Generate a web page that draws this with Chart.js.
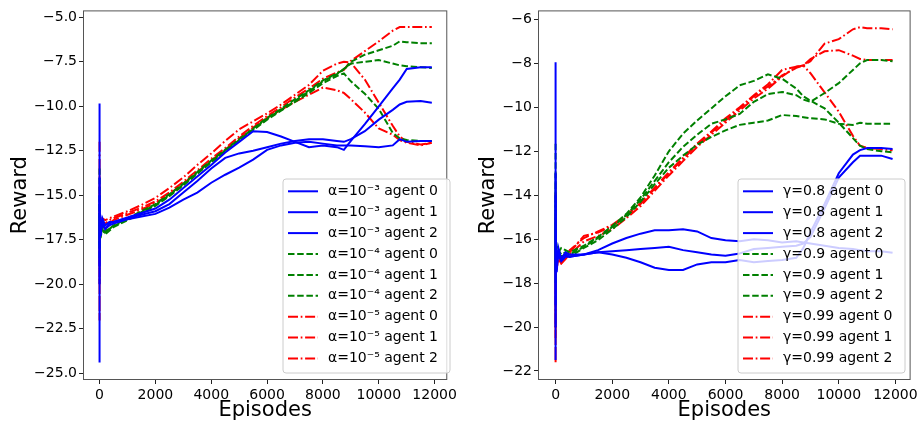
<!DOCTYPE html>
<html><head><meta charset="utf-8">
<script src="https://cdn.jsdelivr.net/npm/chart.js@4.4.1/dist/chart.umd.min.js"></script>
<style>
body{margin:0;background:#fff;}
#wrap{position:relative;width:921px;height:426px;}
.panel{position:absolute;top:0;height:426px;}
</style></head><body>
<div id="wrap">
<div class="panel" style="left:0;width:460px"><canvas id="lr" width="460" height="426"></canvas></div>
<div class="panel" style="left:460px;width:461px"><canvas id="gm" width="461" height="426"></canvas></div>
</div>
<script>
// shared x positions (episodes); several 0s draw the start-up spike
const episodes = [0,0,0,0,0,40,100,200,350,500,1000,1500,2000,2500,3000,3500,4000,4500,5000,5500,6000,6500,7000,7500,8000,8500,8750,9000,9500,10000,10500,10750,11000,11500,11900];
const xTicks = [0,2000,4000,6000,8000,10000,12000];
const lrTicks = [-25,-22.5,-20,-17.5,-15,-12.5,-10,-7.5,-5];
const gammaTicks = [-22,-20,-18,-16,-14,-12,-10,-8,-6];

// left panel: learning rate
const lrLabels = ['α=10⁻³ agent 0','α=10⁻³ agent 1','α=10⁻³ agent 2','α=10⁻⁴ agent 0','α=10⁻⁴ agent 1','α=10⁻⁴ agent 2','α=10⁻⁵ agent 0','α=10⁻⁵ agent 1','α=10⁻⁵ agent 2'];
const lr3a0 = [-9.85,-24.4,-12.7,-19.5,-15.8,-17.3,-16.4,-16.9,-16.6,-16.5,-16.25,-16.0,-15.75,-15.25,-14.6,-13.95,-13.3,-12.6,-12.0,-11.4,-11.45,-11.7,-12.0,-12.3,-12.2,-12.3,-12.45,-11.95,-11.0,-10.0,-9.0,-8.5,-7.9,-7.8,-7.8];
const lr3a1 = [-14,-20,-15.5,-18,-16.5,-17.0,-16.3,-16.7,-16.5,-16.5,-16.3,-16.1,-15.9,-15.5,-14.85,-14.2,-13.5,-12.9,-12.65,-12.5,-12.3,-12.1,-11.95,-11.85,-11.85,-11.95,-12.0,-11.85,-11.4,-10.75,-10.2,-9.9,-9.75,-9.7,-9.8];
const lr3a2 = [-15,-19,-16,-17.5,-16.8,-17.1,-16.6,-16.9,-16.7,-16.6,-16.35,-16.2,-16.05,-15.7,-15.25,-14.85,-14.3,-13.85,-13.45,-13.0,-12.45,-12.2,-12.05,-12.0,-12.1,-12.2,-12.2,-12.2,-12.25,-12.3,-12.2,-11.85,-12.0,-11.95,-11.95];
const lr4a0 = [-13.5,-18.6,-15.2,-17.8,-16.5,-17.4,-16.6,-17.1,-16.9,-16.7,-16.3,-15.9,-15.5,-14.95,-14.35,-13.7,-13.05,-12.45,-11.85,-11.25,-10.65,-10.15,-9.6,-9.1,-8.55,-8.15,-7.95,-7.5,-7.1,-6.85,-6.6,-6.35,-6.4,-6.45,-6.45];
const lr4a1 = [-15,-18,-16,-17.5,-16.8,-17.2,-16.8,-17.0,-16.9,-16.75,-16.35,-15.95,-15.55,-15.0,-14.4,-13.75,-13.1,-12.5,-11.9,-11.3,-10.7,-10.2,-9.7,-9.15,-8.6,-8.2,-7.9,-7.6,-7.5,-7.4,-7.6,-7.7,-7.75,-7.8,-7.85];
const lr4a2 = [-15.5,-17.8,-16.3,-17.3,-17.0,-17.3,-16.9,-17.2,-17.0,-16.8,-16.4,-16.0,-15.6,-15.05,-14.45,-13.8,-13.15,-12.55,-11.95,-11.35,-10.75,-10.25,-9.75,-9.25,-8.7,-8.3,-8.15,-8.6,-9.3,-10.15,-11.5,-11.8,-11.9,-11.95,-11.95];
const lr5a0 = [-12.0,-22.05,-13.5,-19.5,-16.0,-17.2,-16.5,-16.6,-16.4,-16.3,-16.0,-15.7,-15.35,-14.85,-14.25,-13.6,-12.95,-12.35,-11.7,-11.1,-10.55,-10.05,-9.5,-9.0,-8.45,-8.1,-7.95,-7.45,-6.9,-6.35,-5.75,-5.55,-5.55,-5.55,-5.55];
const lr5a1 = [-14.5,-20.0,-15.8,-18.5,-16.5,-17.0,-16.3,-16.4,-16.3,-16.2,-15.9,-15.55,-15.15,-14.6,-14.0,-13.3,-12.65,-11.95,-11.3,-10.85,-10.4,-9.9,-9.35,-8.8,-8.0,-7.6,-7.5,-7.55,-8.5,-9.8,-11.1,-11.7,-12.0,-12.15,-12.05];
const lr5a2 = [-15.5,-19,-16.2,-18,-16.8,-17.1,-16.7,-16.8,-16.6,-16.4,-16.1,-15.8,-15.45,-14.95,-14.35,-13.7,-13.05,-12.45,-11.8,-11.2,-10.65,-10.2,-9.75,-9.35,-8.95,-9.1,-9.25,-9.6,-10.35,-11.25,-11.6,-11.9,-12.05,-12.2,-12.05];

// right panel: discount factor
const gammaLabels = ['γ=0.8 agent 0','γ=0.8 agent 1','γ=0.8 agent 2','γ=0.9 agent 0','γ=0.9 agent 1','γ=0.9 agent 2','γ=0.99 agent 0','γ=0.99 agent 1','γ=0.99 agent 2'];
const g8a0 = [-7.95,-21.5,-12,-19,-15.5,-17.5,-16.4,-16.9,-16.6,-16.7,-16.7,-16.5,-16.2,-15.95,-15.75,-15.6,-15.6,-15.55,-15.65,-15.95,-16.05,-16.1,-16.0,-16.05,-16.15,-16.1,-16.15,-16.2,-16.3,-16.4,-16.45,-16.5,-16.55,-16.55,-16.62];
const g8a1 = [-13,-19,-15.5,-18,-16.8,-17.0,-16.6,-16.9,-16.7,-16.8,-16.7,-16.6,-16.55,-16.5,-16.45,-16.4,-16.35,-16.5,-16.6,-16.7,-16.75,-16.65,-16.45,-16.4,-16.35,-16.3,-16.2,-15.9,-14.6,-13.2,-12.5,-12.2,-12.2,-12.2,-12.35];
const g8a2 = [-14,-20,-16,-18.5,-17,-17.2,-16.7,-17.0,-16.8,-16.8,-16.7,-16.6,-16.7,-16.85,-17.05,-17.3,-17.4,-17.4,-17.15,-17.05,-17.05,-16.95,-17.05,-17.0,-16.95,-16.85,-16.4,-15.7,-14.4,-13.0,-12.15,-11.95,-11.85,-11.85,-11.9];
const g9a0 = [-11.66,-18,-13.5,-17,-16,-16.3,-16.6,-16.4,-16.5,-16.6,-16.3,-15.9,-15.4,-14.85,-14.1,-13.1,-12.0,-11.2,-10.6,-10.05,-9.5,-9.0,-8.8,-8.5,-8.7,-9.15,-9.5,-9.7,-10.05,-10.7,-11.4,-11.75,-11.9,-12.0,-12.05];
const g9a1 = [-13,-17.5,-15,-17,-16.5,-16.8,-16.5,-16.7,-16.6,-16.7,-16.35,-15.95,-15.45,-14.9,-14.2,-13.35,-12.5,-11.8,-11.25,-10.75,-10.55,-10.3,-9.75,-9.4,-9.3,-9.45,-9.65,-9.75,-9.35,-8.9,-8.3,-8.0,-7.85,-7.85,-7.9];
const g9a2 = [-14,-17.2,-15.5,-16.8,-16.6,-16.9,-16.6,-16.8,-16.7,-16.8,-16.4,-16.05,-15.55,-15.0,-14.3,-13.5,-12.75,-12.2,-11.7,-11.35,-11.05,-10.8,-10.7,-10.6,-10.35,-10.4,-10.45,-10.5,-10.55,-10.75,-10.8,-10.7,-10.75,-10.75,-10.75];
const g99a0 = [-13.9,-21.64,-15,-19.5,-16.8,-17.3,-16.9,-17.1,-16.9,-16.6,-15.85,-15.7,-15.4,-14.95,-14.4,-13.7,-13.0,-12.35,-11.7,-11.15,-10.6,-10.05,-9.5,-9.05,-8.55,-8.2,-8.1,-7.9,-7.1,-6.9,-6.45,-6.35,-6.4,-6.4,-6.45];
const g99a1 = [-15,-20.5,-16,-19,-17,-17.2,-16.8,-17.0,-16.8,-16.5,-15.95,-15.65,-15.35,-14.9,-14.35,-13.65,-12.95,-12.3,-11.65,-11.1,-10.5,-10.0,-9.45,-8.95,-8.3,-8.15,-8.1,-7.8,-7.45,-7.4,-7.65,-7.8,-7.85,-7.85,-7.85];
const g99a2 = [-15.5,-20,-16.3,-18.5,-17.2,-17.3,-16.9,-17.1,-16.9,-16.7,-16.1,-15.85,-15.55,-15.05,-14.5,-13.8,-13.1,-12.45,-11.8,-11.25,-10.7,-10.15,-9.6,-9.15,-8.6,-8.15,-8.1,-8.45,-9.32,-10.2,-11.3,-11.75,-11.85,-11.9,-11.95];

const FONT = '"DejaVu Sans", sans-serif';
Chart.defaults.font.family = FONT;
const SOLID = [], DASH = [6.5, 2.7], DASHDOT = [10, 2.7, 1.7, 2.7];
const LW = 2;

function line(label, values, color, dash) {
  return {
    label: label,
    data: episodes.map((x, i) => ({ x: x, y: values[i] })),
    borderColor: color,
    borderWidth: LW,
    borderDash: dash,
    pointRadius: 0,
    fill: false,
    tension: 0
  };
}

// frame round the plot and the boxed legend, drawn like matplotlib's
const boxLegend = {
  id: 'boxLegend',
  afterDraw(chart, args, opts) {
    const ctx = chart.ctx, ca = chart.chartArea;
    ctx.save();
    ctx.strokeStyle = '#555';
    ctx.lineWidth = 1;
    ctx.strokeRect(ca.left + 0.5, ca.top + 0.5, ca.right - ca.left - 1, ca.bottom - ca.top - 1);

    const x = opts.x, y = opts.y, w = opts.w, h = opts.h, r = 3;
    ctx.beginPath();
    ctx.moveTo(x + r, y);
    ctx.lineTo(x + w - r, y);
    ctx.arcTo(x + w, y, x + w, y + r, r);
    ctx.lineTo(x + w, y + h - r);
    ctx.arcTo(x + w, y + h, x + w - r, y + h, r);
    ctx.lineTo(x + r, y + h);
    ctx.arcTo(x, y + h, x, y + h - r, r);
    ctx.lineTo(x, y + r);
    ctx.arcTo(x, y, x + r, y, r);
    ctx.closePath();
    ctx.fillStyle = 'rgba(255,255,255,0.8)';
    ctx.fill();
    ctx.strokeStyle = '#cccccc';
    ctx.stroke();

    ctx.font = '14px ' + FONT;
    ctx.textBaseline = 'middle';
    chart.data.datasets.forEach((ds, i) => {
      const ry = y + 12.3 + i * 20.9;
      ctx.beginPath();
      ctx.setLineDash(ds.borderDash);
      ctx.strokeStyle = ds.borderColor;
      ctx.lineWidth = LW;
      ctx.moveTo(opts.hx, ry);
      ctx.lineTo(opts.hx + 30, ry);
      ctx.stroke();
      ctx.setLineDash([]);
      ctx.fillStyle = '#000';
      ctx.fillText(ds.label, opts.tx, ry);
    });
    ctx.restore();
  }
};

function makeChart(id, labels, series, yTicks, yRange, xRange, yWidth, rightPad, titlePad, legendBox, yFmt) {
  const colors = ['#0000ff','#0000ff','#0000ff','#008000','#008000','#008000','#ff0000','#ff0000','#ff0000'];
  const dashes = [SOLID, SOLID, SOLID, DASH, DASH, DASH, DASHDOT, DASHDOT, DASHDOT];
  return new Chart(document.getElementById(id), {
    type: 'line',
    data: { datasets: series.map((v, i) => line(labels[i], v, colors[i], dashes[i])) },
    options: {
      responsive: false,
      animation: false,
      devicePixelRatio: 1,
      events: [],
      layout: { padding: { top: 7, right: rightPad, left: 0, bottom: 0 } },
      plugins: { legend: { display: false }, tooltip: { enabled: false }, boxLegend: legendBox },
      scales: {
        x: {
          type: 'linear', min: xRange[0], max: xRange[1],
          afterBuildTicks: s => { s.ticks = xTicks.map(v => ({ value: v })); },
          afterFit: s => { s.height = 46; },
          ticks: { font: { size: 14 }, color: '#000', padding: 3, maxRotation: 0, autoSkip: false, callback: v => String(v) },
          grid: { drawOnChartArea: false, tickLength: 4, tickColor: '#222' },
          border: { display: false },
          title: { display: true, text: 'Episodes', font: { size: 21 }, color: '#000', padding: { top: 0, bottom: 3 } }
        },
        y: {
          type: 'linear', min: yRange[0], max: yRange[1],
          afterBuildTicks: s => { s.ticks = yTicks.map(v => ({ value: v })); },
          afterFit: s => { s.width = yWidth; },
          ticks: { font: { size: 14 }, color: '#000', padding: 2, autoSkip: false, callback: yFmt },
          grid: { drawOnChartArea: false, tickLength: 4, tickColor: '#222' },
          border: { display: false },
          title: { display: true, text: 'Reward', font: { size: 21 }, color: '#000', padding: { top: titlePad, bottom: 0 } }
        }
      }
    },
    plugins: [boxLegend]
  });
}

const fmt1 = v => (v < 0 ? '\u2212' : '') + Math.abs(v).toFixed(1);
const fmt0 = v => (v < 0 ? '\u2212' : '') + Math.abs(v).toFixed(0);

makeChart('lr', lrLabels,
  [lr3a0, lr3a1, lr3a2, lr4a0, lr4a1, lr4a2, lr5a0, lr5a1, lr5a2],
  lrTicks, [-25.39, -4.61], [-593, 12453], 83, 3, 8,
  { x: 283, y: 179, w: 167, h: 194, hx: 288, tx: 328 }, fmt1);

makeChart('gm', gammaLabels,
  [g8a0, g8a1, g8a2, g9a0, g9a1, g9a2, g99a0, g99a1, g99a2],
  gammaTicks, [-22.41, -5.59], [-621, 12537], 78, 8, 16,
  { x: 278, y: 179, w: 167, h: 194, hx: 283, tx: 323 }, fmt0);
</script>
</body></html>
